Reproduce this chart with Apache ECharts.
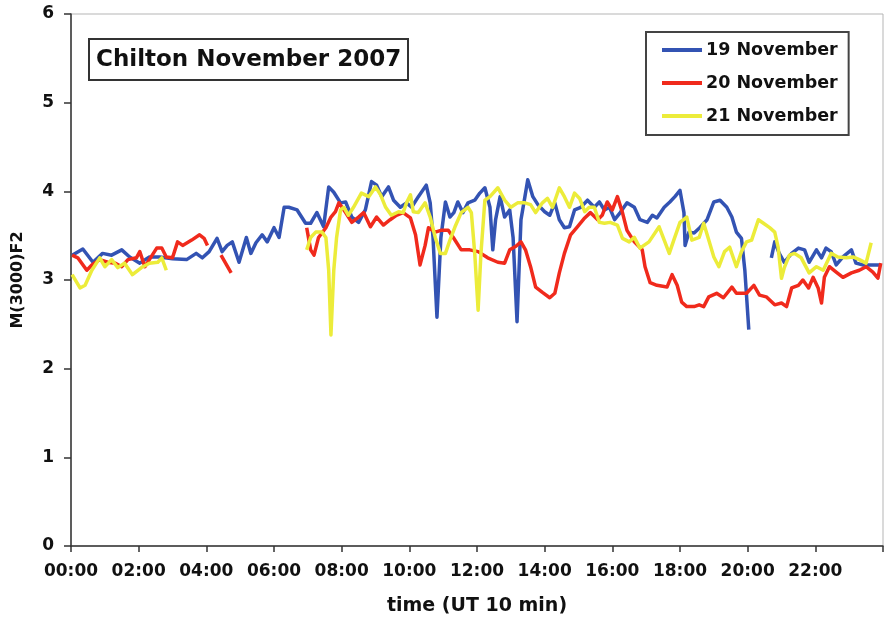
<!DOCTYPE html>
<html>
<head>
<meta charset="utf-8">
<script src="https://cdn.jsdelivr.net/npm/echarts@6/dist/echarts.min.js"></script>
<style>
html,body{margin:0;padding:0;background:#fff;}
#chart{width:886px;height:622px;}
</style>
</head>
<body>
<div id="chart"></div>
<script>
// time in minutes (UT), null value = gap in record
const xTicks = ['00:00','02:00','04:00','06:00','08:00','10:00','12:00','14:00','16:00','18:00','20:00','22:00'];
const seriesNames = ['19 November','20 November','21 November'];

const t19 = [2,21,39,56,72,90,104,122,139,157,180,205,222,233,245,259,268,277,286,298,311,319,328,339,348,360,369,378,386,401,416,425,436,448,457,466,478,487,498,510,522,533,542,551,563,572,584,595,604,616,630,637,642,649,656,664,672,679,686,695,704,716,725,734,743,748,753,761,769,778,784,791,798,805,810,819,828,840,849,858,866,875,884,893,904,916,928,937,946,955,964,974,986,999,1009,1022,1031,1039,1052,1062,1071,1080,1087,1089,1096,1105,1115,1128,1140,1151,1163,1172,1180,1189,1195,1202,1220,1242,1248,1256,1265,1278,1290,1301,1309,1322,1331,1339,1348,1357,1369,1384,1392,1405,1436];
const v19 = [3.28,3.35,3.20,3.30,3.28,3.34,3.26,3.19,3.26,3.26,3.24,3.23,3.30,3.25,3.32,3.47,3.32,3.39,3.43,3.20,3.48,3.30,3.42,3.51,3.43,3.59,3.48,3.82,3.82,3.79,3.64,3.64,3.76,3.60,4.05,3.99,3.87,3.88,3.71,3.65,3.79,4.11,4.07,3.94,4.05,3.90,3.82,3.87,3.82,3.94,4.07,3.87,3.48,2.58,3.48,3.88,3.71,3.76,3.88,3.76,3.87,3.90,3.98,4.04,3.82,3.34,3.68,3.94,3.71,3.79,3.48,2.53,3.68,3.94,4.13,3.94,3.85,3.77,3.73,3.87,3.68,3.59,3.60,3.79,3.82,3.90,3.82,3.88,3.79,3.82,3.68,3.76,3.87,3.82,3.68,3.65,3.73,3.70,3.82,3.88,3.94,4.01,3.76,3.39,3.54,3.53,3.59,3.68,3.88,3.90,3.82,3.71,3.54,3.47,3.11,2.44,null,3.25,3.43,3.30,3.20,3.30,3.36,3.34,3.20,3.34,3.25,3.36,3.32,3.17,3.26,3.34,3.19,3.17,3.17];

const t20 = [2,12,28,37,51,65,78,90,101,116,122,131,139,152,161,169,180,189,198,214,228,236,242,254,266,284,350,418,425,431,439,452,461,469,475,487,498,510,519,531,542,554,566,577,589,602,611,619,628,634,646,656,669,678,692,707,722,739,757,769,778,789,798,806,815,824,836,849,858,866,875,886,898,911,921,934,942,951,960,969,978,986,999,1013,1018,1027,1039,1057,1066,1075,1083,1092,1105,1114,1122,1131,1145,1157,1172,1180,1198,1211,1221,1233,1248,1260,1269,1278,1290,1298,1308,1316,1325,1331,1336,1345,1357,1369,1384,1398,1410,1422,1431,1436];
const v20 = [3.28,3.25,3.11,3.17,3.23,3.20,3.19,3.15,3.23,3.25,3.32,3.15,3.23,3.36,3.36,3.26,3.25,3.43,3.39,3.45,3.51,3.47,3.39,null,3.28,3.08,null,3.59,3.34,3.28,3.48,3.59,3.71,3.77,3.87,3.76,3.65,3.71,3.76,3.60,3.71,3.62,3.68,3.73,3.76,3.70,3.51,3.17,3.39,3.59,3.54,3.56,3.56,3.48,3.34,3.34,3.32,3.25,3.20,3.19,3.34,3.38,3.43,3.34,3.15,2.92,2.86,2.80,2.85,3.08,3.30,3.51,3.60,3.70,3.76,3.68,3.73,3.88,3.79,3.94,3.76,3.56,3.43,3.34,3.15,2.97,2.94,2.92,3.06,2.94,2.75,2.70,2.70,2.72,2.70,2.81,2.85,2.80,2.92,2.85,2.85,2.94,2.83,2.81,2.72,2.74,2.70,2.91,2.94,3.00,2.91,3.03,2.91,2.74,3.03,3.15,3.09,3.03,3.08,3.11,3.15,3.09,3.02,3.19];

const t21 = [2,16,25,37,51,60,72,83,95,109,125,139,154,161,169,300,418,425,434,445,452,457,461,466,471,478,484,492,501,515,528,540,549,558,568,581,589,595,602,607,616,628,637,646,655,664,672,681,692,704,710,716,722,727,734,743,757,769,780,792,805,815,824,836,845,854,866,875,884,893,902,911,919,928,937,946,956,969,978,990,999,1009,1025,1043,1052,1061,1069,1080,1092,1101,1114,1122,1131,1140,1149,1159,1168,1180,1189,1198,1207,1219,1228,1239,1248,1254,1260,1265,1274,1283,1295,1309,1322,1334,1348,1360,1375,1387,1398,1410,1419];
const v21 = [3.06,2.91,2.94,3.11,3.25,3.15,3.23,3.14,3.19,3.06,3.14,3.19,3.20,3.25,3.11,null,3.34,3.48,3.54,3.54,3.48,3.11,2.38,3.11,3.48,3.79,3.82,3.73,3.82,3.98,3.94,4.05,3.96,3.82,3.73,3.77,3.76,3.87,3.96,3.77,3.76,3.87,3.71,3.48,3.30,3.30,3.45,3.60,3.76,3.82,3.76,3.30,2.66,3.30,3.90,3.94,4.04,3.90,3.82,3.87,3.87,3.85,3.76,3.87,3.92,3.82,4.04,3.94,3.82,3.98,3.92,3.77,3.82,3.82,3.65,3.64,3.65,3.62,3.47,3.43,3.48,3.36,3.43,3.60,3.45,3.30,3.45,3.65,3.71,3.45,3.48,3.64,3.45,3.26,3.15,3.32,3.37,3.15,3.32,3.43,3.45,3.68,3.64,3.59,3.54,3.37,3.02,3.14,3.28,3.30,3.25,3.08,3.15,3.11,3.30,3.26,3.25,3.26,3.23,3.19,3.42];

const colors = ['#3353b3','#f02a1c','#ecec3a'];

function pairs(ts, vs){ return ts.map((t,i)=>[t, vs[i]===null ? '-' : vs[i]]); }

const FONT = 'DejaVu Sans';
const chart = echarts.init(document.getElementById('chart'), null, {renderer:'canvas'});
chart.setOption({
  animation:false,
  backgroundColor:'#fff',
  color: colors,
  title:{
    text:'Chilton November 2007',
    left:89, top:39,
    padding:[9,7,8,7],
    borderColor:'#333', borderWidth:2,
    textStyle:{fontFamily:FONT, fontSize:23, fontWeight:'bold', color:'#111', lineHeight:24}
  },
  legend:{
    orient:'vertical',
    left:646, top:32,
    padding:[9,11,10,16],
    borderColor:'#444', borderWidth:2,
    itemWidth:40, itemHeight:4, itemGap:15,
    icon:'rect',
    textStyle:{fontFamily:FONT, fontSize:17.5, fontWeight:'bold', color:'#111', padding:[0,0,0,-1]},
    data: seriesNames
  },
  grid:{left:71, right:1, top:14, bottom:76, show:true, borderColor:'#b5b5b5', borderWidth:1},
  xAxis:{
    type:'value', min:0, max:1440, interval:120,
    name:'time (UT 10 min)', nameLocation:'middle', nameGap:51,
    nameTextStyle:{fontFamily:FONT, fontSize:19, fontWeight:'bold', color:'#111'},
    axisLine:{lineStyle:{color:'#333', width:1.5}},
    axisTick:{inside:false, length:6, lineStyle:{color:'#333', width:1.5}},
    splitLine:{show:false},
    axisLabel:{
      margin:17, fontFamily:FONT, fontSize:17, fontWeight:'bold', color:'#111',
      formatter:(v)=>{ const i = v/120; return (i < xTicks.length) ? xTicks[i] : ''; }
    }
  },
  yAxis:{
    type:'value', min:0, max:6, interval:1,
    name:'M(3000)F2', nameLocation:'middle', nameGap:45,
    nameTextStyle:{fontFamily:FONT, fontSize:16, fontWeight:'bold', color:'#111'},
    axisLine:{show:true, lineStyle:{color:'#333', width:1.5}},
    axisTick:{show:true, inside:false, length:7, lineStyle:{color:'#333', width:1.5}},
    splitLine:{show:false},
    axisLabel:{margin:17, fontFamily:FONT, fontSize:17, fontWeight:'bold', color:'#111'}
  },
  series:[
    {name:seriesNames[0], type:'line', data:pairs(t19,v19), showSymbol:false, symbol:'none', connectNulls:false, lineStyle:{width:3.5, color:colors[0], join:'round'}},
    {name:seriesNames[1], type:'line', data:pairs(t20,v20), showSymbol:false, symbol:'none', connectNulls:false, lineStyle:{width:3.5, color:colors[1], join:'round'}},
    {name:seriesNames[2], type:'line', data:pairs(t21,v21), showSymbol:false, symbol:'none', connectNulls:false, lineStyle:{width:3.5, color:colors[2], join:'round'}}
  ]
});
</script>
</body>
</html>
